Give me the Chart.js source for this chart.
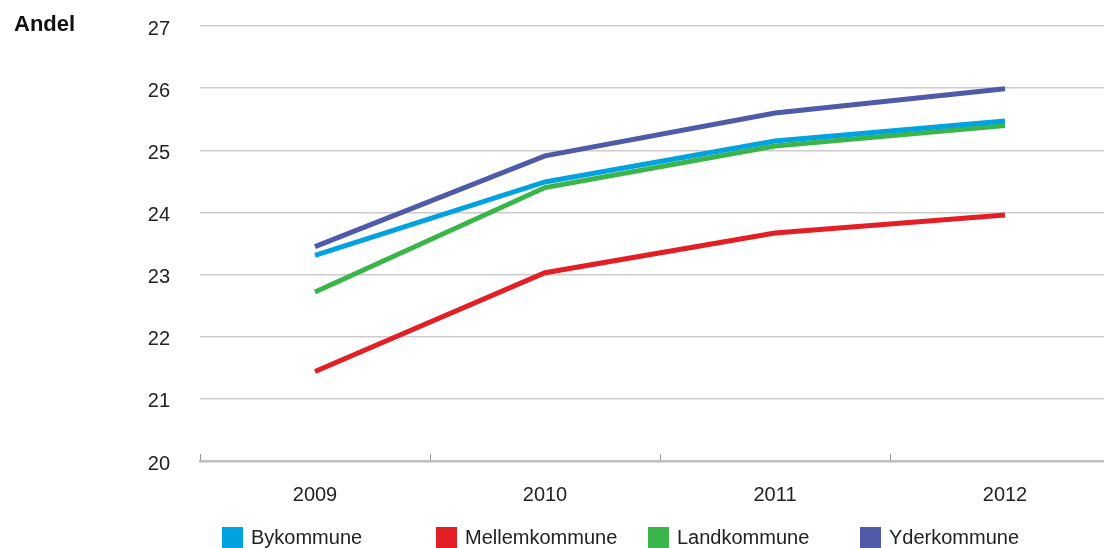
<!DOCTYPE html>
<html>
<head>
<meta charset="utf-8">
<script src="https://cdn.jsdelivr.net/npm/chart.js@4.4.0/dist/chart.umd.min.js"></script>
<style>
    html, body { margin: 0; padding: 0; background: #fff; overflow: hidden; width: 1104px; height: 548px; }
    #wrap { position: relative; width: 1124px; height: 548px; }
    #chart { display: block; }
    #andel { position: absolute; left: 14px; top: 11px; font: bold 22px "Liberation Sans", Arial, sans-serif; color: #111; }
    .item { position: absolute; top: 526px; height: 22px; display: flex; align-items: center; font: 20px "Liberation Sans", Arial, sans-serif; color: #222; white-space: nowrap; }
    .box { width: 21px; height: 21px; margin-right: 8px; }
</style>
</head>
<body>
<div id="wrap">
    <canvas id="chart" width="1124" height="548"></canvas>
    <div id="andel">Andel</div>
    <div id="legend"></div>
</div>
<script>
// Data
const years = ['2009', '2010', '2011', '2012'];
const bykommune = [23.31, 24.49, 25.15, 25.47];
const mellemkommune = [21.44, 23.03, 23.67, 23.96];
const landkommune = [22.72, 24.40, 25.07, 25.40];
const yderkommune = [23.45, 24.91, 25.60, 25.99];
const yTicks = [20, 21, 22, 23, 24, 25, 26, 27];

const seriesNames = ['Bykommune', 'Mellemkommune', 'Landkommune', 'Yderkommune'];
const seriesColors = ['#00a3e0', '#e31e24', '#3ab54a', '#4f5ba8'];
const seriesData = [bykommune, mellemkommune, landkommune, yderkommune];

const font = { family: '"Liberation Sans", Arial, sans-serif', size: 20 };

const datasets = seriesNames.map((name, i) => ({
    label: name,
    data: seriesData[i],
    borderColor: seriesColors[i],
    backgroundColor: seriesColors[i],
    borderWidth: 5,
    pointRadius: 0,
    tension: 0,
    fill: false
}));

// Legend in fixed-width columns, like the reference
const legendEl = document.getElementById('legend');
const legendLeft = [222, 436, 648, 860];
legendEl.innerHTML = seriesNames.map((name, i) =>
    `<div class="item" style="left:${legendLeft[i]}px">
        <span class="box" style="background:${seriesColors[i]}"></span>${name}
    </div>`
).join('');

const ctx = document.getElementById('chart').getContext('2d');
new Chart(ctx, {
    type: 'line',
    data: { labels: years, datasets },
    options: {
        responsive: false,
        animation: false,
        layout: { padding: { top: 26, right: 4, bottom: 12, left: 0 } },
        plugins: {
            legend: { display: false },
            tooltip: { enabled: false }
        },
        scales: {
            x: {
                offset: true,
                grid: {
                    offset: true,
                    drawOnChartArea: false,
                    drawTicks: true,
                    tickLength: -7,
                    color: '#999',
                    lineWidth: 1
                },
                border: { display: true, color: '#bdbdbd', width: 2.5 },
                ticks: { color: '#222', font, padding: 29, maxRotation: 0 }
            },
            y: {
                min: 20,
                max: 27,
                afterBuildTicks: (scale) => { scale.ticks = yTicks.map(v => ({ value: v })); },
                afterFit: (scale) => {
                    scale.width = 200;
                    scale.paddingTop = 0;
                    scale.paddingBottom = 0;
                },
                grid: { color: '#cccccc', lineWidth: 1.5, drawTicks: false },
                border: { display: false },
                ticks: { color: '#222', font, padding: 30, labelOffset: 3 }
            }
        }
    }
});
</script>
</body>
</html>
